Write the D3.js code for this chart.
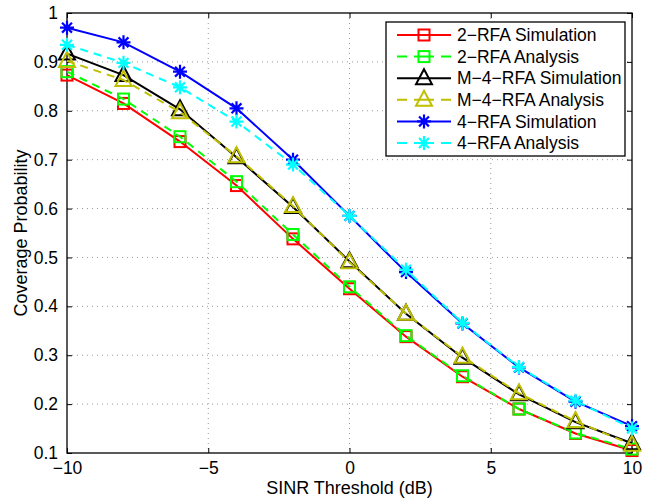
<!DOCTYPE html>
<style>
body { margin: 0; background: #fff; font-family: 'Liberation Sans', Arial, sans-serif; }
.grid line { stroke: #999; stroke-dasharray: 1,4; }
</style>
<svg width="657" height="502"></svg>
<script src="https://d3js.org/d3.v7.min.js"></script>
<script>
var thresholds = [-10, -8, -6, -4, -2, 0, 2, 4, 6, 8, 10];
var xTicks = [-10, -5, 0, 5, 10];
var yTicks = [0.1, 0.2, 0.3, 0.4, 0.5, 0.6, 0.7, 0.8, 0.9, 1];

var rfa2Sim  = [0.873, 0.815, 0.737, 0.647, 0.538, 0.436, 0.338, 0.256, 0.19, 0.14, 0.105];
var rfa2Ana  = [0.88, 0.824, 0.747, 0.655, 0.547, 0.44, 0.34, 0.258, 0.19, 0.141, 0.108];
var m4Sim    = [0.917, 0.873, 0.803, 0.705, 0.603, 0.492, 0.385, 0.295, 0.22, 0.163, 0.12];
var m4Ana    = [0.902, 0.863, 0.797, 0.707, 0.605, 0.49, 0.385, 0.297, 0.222, 0.165, 0.117];
var rfa4Sim  = [0.97, 0.94, 0.88, 0.805, 0.70, 0.585, 0.47, 0.365, 0.275, 0.205, 0.155];
var rfa4Ana  = [0.935, 0.898, 0.848, 0.778, 0.69, 0.585, 0.475, 0.366, 0.276, 0.207, 0.15];

var series = [
  {name: "2-RFA Simulation",   values: rfa2Sim, color: "#ff0000", dash: null,  marker: "square"},
  {name: "2-RFA Analysis",     values: rfa2Ana, color: "#00ff00", dash: "8,6", marker: "square"},
  {name: "M-4-RFA Simulation", values: m4Sim,   color: "#000000", dash: null,  marker: "triangle"},
  {name: "M-4-RFA Analysis",   values: m4Ana,   color: "#bfbf00", dash: "8,6", marker: "triangle"},
  {name: "4-RFA Simulation",   values: rfa4Sim, color: "#0000ff", dash: null,  marker: "star"},
  {name: "4-RFA Analysis",     values: rfa4Ana, color: "#00ffff", dash: "8,6", marker: "star"}
];

var svg = d3.select("svg"),
    margin = {top: 13, right: 25, bottom: 49, left: 67},
    width = +svg.attr("width") - margin.left - margin.right,
    height = +svg.attr("height") - margin.top - margin.bottom,
    g = svg.append("g").attr("transform", "translate(" + margin.left + "," + margin.top + ")");

var x = d3.scaleLinear().domain([-10, 10]).range([0, width]);
var y = d3.scaleLinear().domain([0.1, 1]).range([height, 0]);

// dotted grid
g.append("g").attr("class", "grid")
  .selectAll("line").data(xTicks.slice(1, -1)).enter().append("line")
    .attr("x1", function(d) { return x(d); }).attr("x2", function(d) { return x(d); })
    .attr("y1", 0).attr("y2", height);
g.append("g").attr("class", "grid")
  .selectAll("line").data(yTicks.slice(1, -1)).enter().append("line")
    .attr("y1", function(d) { return y(d); }).attr("y2", function(d) { return y(d); })
    .attr("x1", 0).attr("x2", width);

// axes, ticks inward like matlab
function styleAxis(sel) {
  sel.select(".domain").remove();
  sel.selectAll("text").attr("font-size", 17.5).attr("fill", "#000")
    .attr("font-family", "'Liberation Sans', Arial, sans-serif");
  sel.selectAll("line").attr("stroke", "#000");
}
g.append("g").attr("transform", "translate(0," + height + ")")
  .call(d3.axisBottom(x).tickValues(xTicks).tickSizeInner(-5).tickPadding(9)
    .tickFormat(function(d) { return d < 0 ? "\u2212" + (-d) : d; }))
  .call(styleAxis);
g.append("g")
  .call(d3.axisTop(x).tickValues(xTicks).tickSizeInner(-5).tickFormat(""))
  .call(styleAxis);
g.append("g")
  .call(d3.axisLeft(y).tickValues(yTicks).tickSizeInner(-5).tickPadding(9)
    .tickFormat(function(d) { return d === 1 ? "1" : d3.format(".1f")(d); }))
  .call(styleAxis);
g.append("g").attr("transform", "translate(" + width + ",0)")
  .call(d3.axisRight(y).tickValues(yTicks).tickSizeInner(-5).tickFormat(""))
  .call(styleAxis);

g.append("rect").attr("width", width).attr("height", height)
  .attr("fill", "none").attr("stroke", "#000").attr("stroke-width", 1.3);

var line = d3.line()
  .x(function(d, i) { return x(thresholds[i]); })
  .y(function(d) { return y(d); });

function drawMarker(sel, type, color) {
  if (type === "square") {
    sel.append("rect").attr("x", -5.5).attr("y", -5.5).attr("width", 11).attr("height", 11)
      .attr("fill", "none").attr("stroke", color).attr("stroke-width", 2);
  } else if (type === "triangle") {
    sel.append("path").attr("d", "M0,-9L8,6L-8,6Z")
      .attr("fill", "none").attr("stroke", color).attr("stroke-width", 2);
  } else {
    var r = 7, p = "";
    [0, 45, 90, 135].forEach(function(a) {
      var dx = r * Math.cos(a * Math.PI / 180), dy = r * Math.sin(a * Math.PI / 180);
      p += "M" + (-dx) + "," + (-dy) + "L" + dx + "," + dy;
    });
    sel.append("path").attr("d", p).attr("stroke", color).attr("stroke-width", 2.2);
  }
}

series.forEach(function(s) {
  g.append("path").datum(s.values)
    .attr("d", line).attr("fill", "none")
    .attr("stroke", s.color).attr("stroke-width", 2)
    .attr("stroke-dasharray", s.dash);
  g.append("g").selectAll("g").data(s.values).enter().append("g")
    .attr("transform", function(d, i) { return "translate(" + x(thresholds[i]) + "," + y(d) + ")"; })
    .each(function() { drawMarker(d3.select(this), s.marker, s.color); });
});

// legend
var legend = svg.append("g").attr("transform", "translate(386,22)");
legend.append("rect").attr("width", 239).attr("height", 134)
  .attr("fill", "#fff").attr("stroke", "#000").attr("stroke-width", 1.3);
var item = legend.selectAll("g.item").data(series).enter().append("g")
  .attr("class", "item")
  .attr("transform", function(d, i) { return "translate(0," + (13 + i * 21.6) + ")"; });
item.append("line").attr("x1", 11).attr("x2", 65)
  .attr("stroke", function(d) { return d.color; }).attr("stroke-width", 2)
  .attr("stroke-dasharray", function(d) { return d.dash ? "10,7,20,7,10" : null; });
item.each(function(d) {
  var m = d3.select(this).append("g").attr("transform", "translate(38,0)");
  drawMarker(m, d.marker, d.color);
});
item.append("text").attr("x", 71).attr("dy", "0.35em")
  .attr("font-size", 17.5).text(function(d) { return d.name.replace(/-/g, "\u2212"); });

// axis titles
svg.append("text")
  .attr("x", margin.left + width / 2).attr("y", 494)
  .attr("text-anchor", "middle").attr("font-size", 18)
  .text("SINR Threshold (dB)");
svg.append("text")
  .attr("transform", "translate(27," + (margin.top + height / 2) + ") rotate(-90)")
  .attr("text-anchor", "middle").attr("font-size", 18)
  .text("Coverage Probability");
</script>
